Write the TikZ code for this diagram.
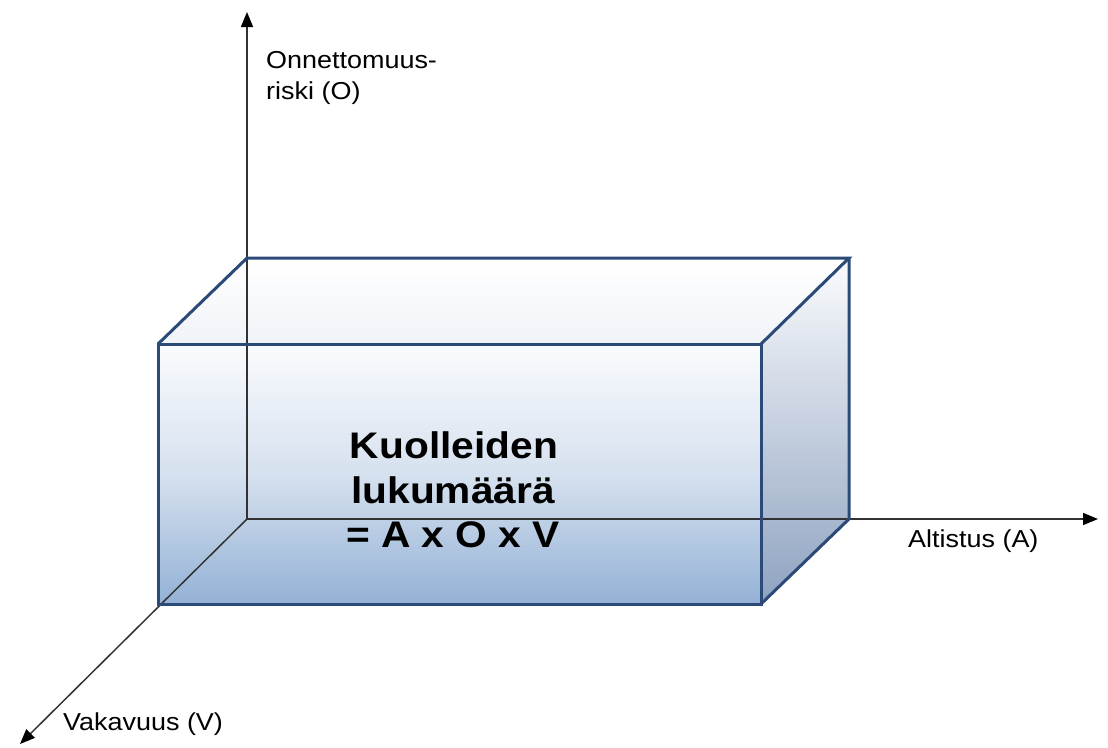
\documentclass[tikz,border=0pt]{standalone}
\usepackage{fontspec}
\setmainfont{Liberation Sans}
\newfontfamily\labfont[FakeStretch=1.1]{Liberation Sans}
\newfontfamily\bigfont[FakeStretch=1.1]{Liberation Sans Bold}
\usetikzlibrary{arrows.meta}
\definecolor{edgeblue}{RGB}{44,74,120}
\definecolor{axisgray}{RGB}{50,50,50}
\definecolor{frontbot}{RGB}{147,177,213}
\definecolor{frontmid}{RGB}{214,225,239}
\definecolor{fronttop}{RGB}{250,251,254}
\definecolor{sidebot}{RGB}{142,162,192}
\definecolor{sidetop}{RGB}{250,251,253}
\definecolor{topbot}{RGB}{240,243,248}
\tikzset{
  axis/.style={draw=axisgray, line width=1.5pt, -{Triangle[length=15pt,width=12pt,fill=black,color=black]}},
  boxedge/.style={draw=edgeblue, line width=3pt, line join=miter},
  axlabel/.style={font=\labfont\fontsize{24.5}{29}\selectfont, anchor=base west, inner sep=0pt},
  biglabel/.style={font=\bigfont\fontsize{37}{45}\selectfont, anchor=base, inner sep=0pt}
}
\begin{document}
\begin{tikzpicture}[x=1pt,y=-1pt]
\useasboundingbox (0,0) rectangle (1108,747);
% box corners
\coordinate (B1) at (247,258);
\coordinate (B2) at (849,258);
\coordinate (B3) at (849,519);
\coordinate (B4) at (247,519);
\coordinate (F1) at (158,344);
\coordinate (F2) at (761,344);
\coordinate (F3) at (761,604);
\coordinate (F4) at (158,604);
% axis ends
\coordinate (O) at (247,519);
\coordinate (Otip) at (247,12);
\coordinate (Atip) at (1098,519);
\coordinate (Vtip) at (20,744);
% faces
\shade[top color=fronttop, bottom color=frontbot, middle color=frontmid] (F1) -- (F2) -- (F3) -- (F4) -- cycle;
\shade[top color=sidetop, bottom color=sidebot] (F2) -- (B2) -- (B3) -- (F3) -- cycle;
\shade[top color=white, bottom color=topbot] (F1) -- (B1) -- (B2) -- (F2) -- cycle;
% axes (also the hidden back edges)
\draw[axis] (O) -- (Otip);
\draw[axis] (O) -- (Atip);
\draw[axis] (O) -- (Vtip);
% visible box edges
\draw[boxedge] (F1) -- (F2) -- (F3) -- (F4) -- cycle;
\draw[boxedge] (F1) -- (B1) -- (B2) -- (F2);
\draw[boxedge] (B2) -- (B3) -- (F3);
% labels
\node[axlabel] (lo1) at (266,68) {Onnettomuus-};
\node[axlabel] (lo2) at (266,99) {riski (O)};
\node[axlabel] (la) at (908,547) {Altistus (A)};
\node[axlabel] (lv) at (63,730) {Vakavuus (V)};
\node[biglabel] (k1) at (454,458) {Kuolleiden};
\node[biglabel] (k2) at (453,503) {lukumäärä};
\node[biglabel] (k3) at (453,547) {= A x O x V};
\end{tikzpicture}
\end{document}
